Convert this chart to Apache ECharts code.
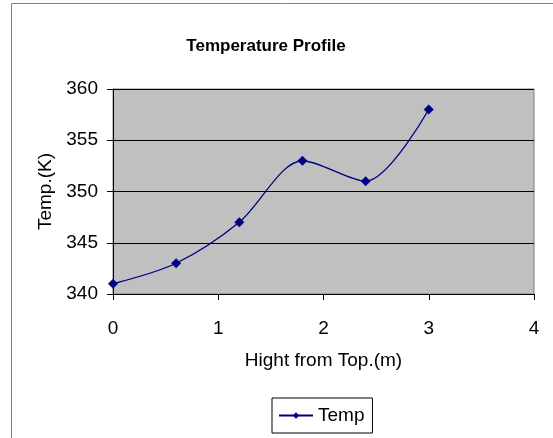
<!DOCTYPE html>
<html><head><meta charset="utf-8">
<script src="https://cdn.jsdelivr.net/npm/echarts@6/dist/echarts.min.js"></script>
<style>html,body{margin:0;padding:0;background:#fff}#c{width:553px;height:438px}</style>
</head><body><div id="c"></div>
<script>
const heights = [0, 0.6, 1.2, 1.8, 2.4, 3.0];
const temps = [341, 343, 347, 353, 351, 358];
const seriesName = 'Temp';
const titleText = 'Temperature Profile';
const xName = 'Hight from Top.(m)';
const yName = 'Temp.(K)';

const chart = echarts.init(document.getElementById('c'));
const font = 'Liberation Sans, Arial, sans-serif';
chart.setOption({
  animation: false,
  title: { text: titleText, left: 261, top: 33, textAlign: 'center',
    textStyle: { fontFamily: font, fontSize: 17, fontWeight: 'bold', color: '#000' } },
  graphic: [
    { type: 'rect', shape: { x: 11.5, y: 3.5, width: 600, height: 500 }, style: { fill: 'none', stroke: '#808080', lineWidth: 1 }, z: 100 }
  ],
  grid: { left: 113, right: 19, top: 89, bottom: 144, show: true, backgroundColor: '#c0c0c0', borderColor: '#808080', borderWidth: 1 },
  legend: { data: [seriesName], left: 272, top: 398, width: 101, height: 36,
    padding: [8, 8, 8, 6], borderColor: '#000', borderWidth: 1, itemWidth: 34, itemHeight: 8, itemGap: 6,
    textStyle: { fontFamily: font, fontSize: 19, color: '#000' } },
  xAxis: { type: 'value', min: 0, max: 4, interval: 1,
    name: xName, nameLocation: 'middle', nameGap: 57,
    nameTextStyle: { fontFamily: font, fontSize: 19, color: '#000' },
    axisLine: { show: true, lineStyle: { color: '#000' } },
    axisTick: { show: true, inside: false, length: 6, lineStyle: { color: '#000' } },
    axisLabel: { fontFamily: font, fontSize: 19, color: '#000', margin: 25 },
    splitLine: { show: false } },
  yAxis: { type: 'value', min: 340, max: 360, interval: 5,
    name: yName, nameLocation: 'middle', nameGap: 56,
    nameTextStyle: { fontFamily: font, fontSize: 19, color: '#000' },
    axisLine: { show: true, lineStyle: { color: '#000' } },
    axisTick: { show: true, inside: false, length: 6, lineStyle: { color: '#000' } },
    axisLabel: { fontFamily: font, fontSize: 19, color: '#000', margin: 15 },
    splitLine: { show: true, lineStyle: { color: '#000', width: 1 } } },
  series: [{ name: seriesName, type: 'line', smooth: 0.3,
    data: heights.map((h, i) => [h, temps[i]]),
    symbol: 'diamond', symbolSize: 10,
    lineStyle: { color: '#000080', width: 1.3 },
    itemStyle: { color: '#000080' } }]
});
</script></body></html>
